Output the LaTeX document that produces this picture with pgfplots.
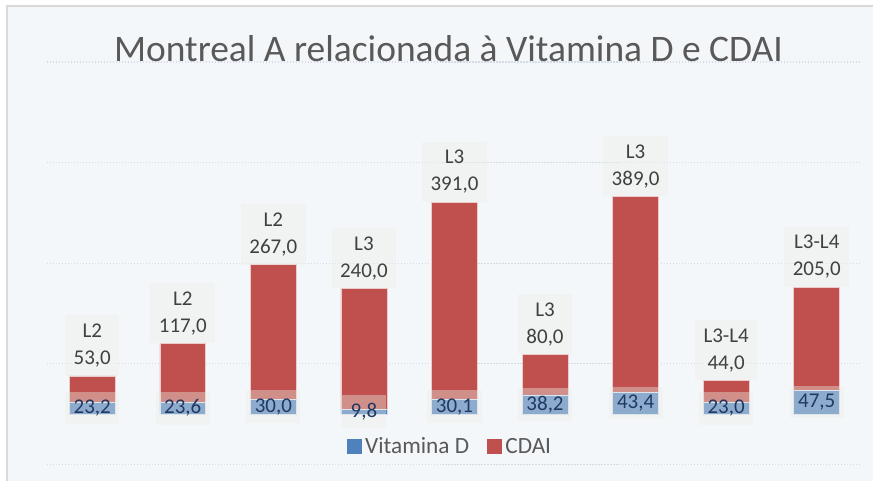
\documentclass[border=0pt]{standalone}
\usepackage{fontspec}
\setmainfont{Carlito}
\usepackage{pgfplots}
\usepackage{pgfplotstable}
\pgfplotsset{compat=1.18}
\definecolor{bg}{HTML}{F4F7FA}
\definecolor{framec}{HTML}{D9D9D9}
\definecolor{vitblue}{HTML}{4F81BD}
\definecolor{cdaired}{HTML}{C0504D}
\definecolor{txt}{HTML}{595959}
\definecolor{lbl}{HTML}{404040}
\definecolor{navy}{HTML}{1F3864}
\definecolor{gridc}{HTML}{D5DCE6}
\definecolor{boxc}{HTML}{ECEEE6}

\pgfplotstableread{
x vit cdai lev
1 23.2 53 L2
2 23.6 117 L2
3 30.0 267 L2
4 9.8 240 L3
5 30.1 391 L3
6 38.2 80 L3
7 43.4 389 L3
8 23.0 44 L3-L4
9 47.5 205 L3-L4
}\datatable

\begin{document}
\begin{tikzpicture}[x=1pt,y=1pt]
\fill[white] (0,0) rectangle (874,482);
\fill[bg] (7,0) rectangle (874,476);
\draw[framec, line width=2pt] (7.5,0) -- (7.5,476) -- (874,476);
\pgfplotsset{common/.style={at={(47pt,17pt)}, anchor=south west,
  width=816pt, height=403pt, scale only axis,
  xmin=0.5, xmax=9.5, ymin=-100, ymax=700,
  axis line style={draw=none}, tick style={draw=none},
  xtick=\empty, clip=false}}
\begin{axis}[common, ybar stacked, bar width=46pt,
  ytick={-100,100,300,500,700}, yticklabels={},
  ymajorgrids, grid style={gridc, line width=1.2pt, dash pattern=on 1.2pt off 1.8pt},
  legend style={at={(0.4945,0.0447)}, anchor=center, draw=none, fill=none,
    legend columns=2, font=\fontsize{23.3}{27}\selectfont, text=txt,
    /tikz/every odd column/.append style={column sep=2pt},
    /tikz/every even column/.append style={column sep=16pt}},
  ]
\addplot[fill=vitblue, draw=white!75!vitblue, line width=0.6pt,
  legend image code/.code={\fill[vitblue] (0pt,-6.8pt) rectangle (13.6pt,6.8pt);}]
  table[x=x,y=vit]{\datatable};
\addplot[fill=cdaired, draw=white!70!cdaired, line width=0.6pt,
  legend image code/.code={\fill[cdaired] (0pt,-6.8pt) rectangle (13.6pt,6.8pt);}]
  table[x=x,y=cdai]{\datatable};
\legend{Vitamina D, CDAI}
\end{axis}
\begin{axis}[common, ytick=\empty]
\addplot[draw=none, mark=none, point meta=\thisrow{vit},
  nodes near coords={\pgfmathprintnumber[fixed, fixed zerofill, precision=1, use comma, assume math mode=true]{\pgfplotspointmeta}},
  nodes near coords style={anchor=center, fill=boxc, fill opacity=0.4, text opacity=1,
    text=navy, font=\fontsize{21}{27}\selectfont, inner xsep=8.5pt, inner ysep=8pt}]
  table[x=x, y expr=\thisrow{vit}/2]{\datatable};
\addplot[draw=none, mark=none, point meta=explicit symbolic,
  visualization depends on={\thisrow{cdai}\as\cdaival},
  nodes near coords={\pgfplotspointmeta\\\pgfmathprintnumber[fixed, fixed zerofill, precision=1, use comma, assume math mode=true]{\cdaival}},
  nodes near coords style={anchor=south, align=center, fill=boxc, fill opacity=0.4, text opacity=1,
    text=lbl, font=\fontsize{21}{27}\selectfont, inner xsep=8.5pt, inner ysep=8.5pt}]
  table[x=x, y expr=\thisrow{vit}+\thisrow{cdai}, meta=lev]{\datatable};
\end{axis}
\node[text=txt, font=\fontsize{37.5}{40}\selectfont, anchor=base] at (449,420.3) {Montreal A relacionada à Vitamina D e CDAI};
\end{tikzpicture}
\end{document}
